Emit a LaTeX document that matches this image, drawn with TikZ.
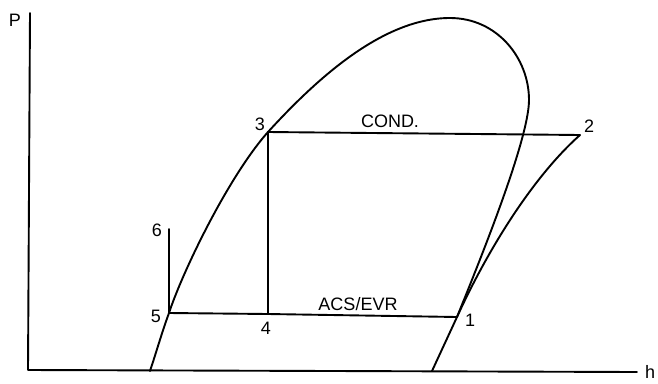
\documentclass[tikz,border=0pt]{standalone}
\usepackage{fontspec}
\setmainfont{Liberation Sans}
\begin{document}
\begin{tikzpicture}[x=1pt,y=-1pt,line width=1.9pt,line join=round,line cap=round,
  lbl/.style={font=\fontsize{18}{18}\selectfont,inner sep=0pt},
  curve/.style={line width=1.9pt}]
\useasboundingbox (0,0) rectangle (658,383);
% axes
\coordinate (ptop) at (30,13);
\coordinate (orig) at (28,370);
\coordinate (hend) at (637,372);
\draw (ptop) -- (orig) -- (hend);
\node[lbl] (P) at (15,20) {P};
\node[lbl] (h) at (650,372) {h};
% cycle points
\coordinate (p1) at (457,317);
\coordinate (p2) at (580,135);
\coordinate (p3) at (268,132);
\coordinate (p4) at (268,314);
\coordinate (p5) at (169,313);
\coordinate (p6) at (169,229);
\coordinate (lfoot) at (150,371);
\coordinate (rfoot) at (432,371);
\coordinate (ctop) at (450,18);
\coordinate (cright) at (529,100);
% saturation dome
\draw[curve] (lfoot) .. controls (157,350) and (162,332) .. (p5)
  .. controls (182,273) and (228,177) .. (p3)
  .. controls (320,75) and (385,18) .. (ctop)
  .. controls (497,18) and (529,58) .. (cright)
  .. controls (529,140) and (478,265) .. (p1)
  -- (rfoot);
% superheated compression line
\draw[curve] (p1) .. controls (490,245) and (535,175) .. (p2);
% cycle lines
\draw (p3) -- (p2);
\draw (p3) -- (p4);
\draw (p5) -- (p4) -- (p1);
\draw (p5) -- (p6);
% labels
\node[lbl] (l1) at (470,320) {1};
\node[lbl] (l2) at (589,126) {2};
\node[lbl] (l3) at (260,124) {3};
\node[lbl] (l4) at (266,328) {4};
\node[lbl] (l5) at (156,316) {5};
\node[lbl] (l6) at (157,230) {6};
\node[lbl] (cond) at (390,121) {COND.};
\node[lbl] (evr) at (358,304) {ACS/EVR};
\end{tikzpicture}
\end{document}
